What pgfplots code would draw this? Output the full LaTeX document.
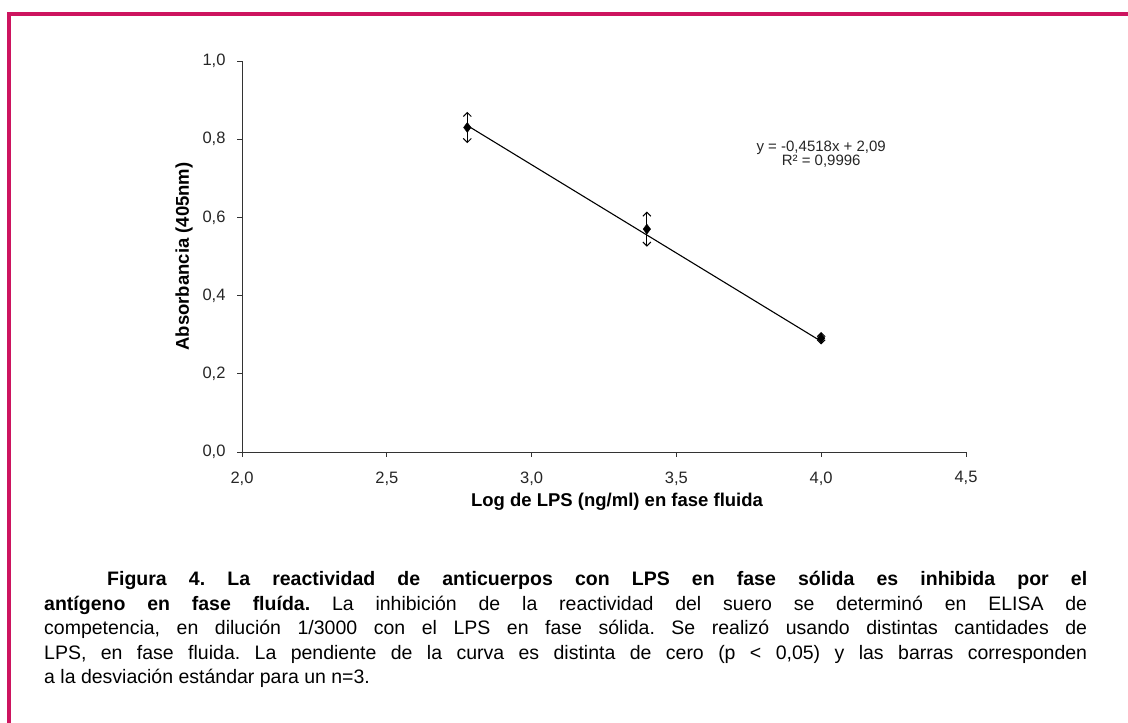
\documentclass[border=0pt]{standalone}
\usepackage{fontspec}
\setmainfont{Liberation Sans}
\usepackage{pgfplots}
\pgfplotsset{compat=1.18}
\usetikzlibrary{arrows.meta}
\definecolor{frame}{RGB}{205,20,95}
\frenchspacing
\begin{document}
\begin{tikzpicture}[x=1pt,y=1pt]
\path[use as bounding box] (0pt,0pt) rectangle (1128pt,723pt);
\fill[white] (0pt,0pt) rectangle (1128pt,723pt);
\draw[frame, line width=4pt] (9pt,0pt) -- (9pt,709pt) -- (1128pt,709pt);
\begin{axis}[
  at={(242pt,271pt)}, anchor=south west,
  scale only axis, width=724pt, height=391pt,
  xmin=2, xmax=4.5, ymin=0, ymax=1,
  axis lines=left, axis line style={-, black!80, line width=0.9pt},
  tick align=outside, major tick length=5pt,
  tick style={black!80, line width=0.9pt},
  xtick={2,2.5,3,3.5,4,4.5}, ytick={0,0.2,0.4,0.6,0.8,1},
  /pgf/number format/assume math mode=true,
  /pgf/number format/.cd, use comma, fixed, fixed zerofill, precision=1, /pgfplots/.cd,
  tick label style={font=\fontsize{16.5}{18}\selectfont, text=black!85},
  xticklabel style={yshift=-11pt},
  yticklabel style={xshift=-8pt},
  xlabel={\textbf{Log de LPS (ng/ml) en fase fluida}},
  ylabel={\textbf{Absorbancia (405nm)}},
  label style={font=\fontsize{18.5}{20}\selectfont},
  xlabel style={at={(axis description cs:0.518,0)}, anchor=north, yshift=-38pt},
  ylabel style={yshift=3pt},
]
\addplot[black, line width=1.1pt] coordinates {(2.778,0.835) (4.0,0.283)};
\addplot[black, only marks, mark=diamond*, mark size=5pt,
  error bars/.cd, y dir=both, y explicit, error mark=none,
  error bar style={-{Straight Barb[length=4pt,width=8pt]}, line width=1pt, black}]
  coordinates {
  (2.778,0.830) +- (0,0.040)
  (3.398,0.570) +- (0,0.045)
  (4.000,0.291) +- (0,0.016)
};
\node[font=\fontsize{15}{17}\selectfont, align=center, text=black!85] at (axis cs:4.0,0.762) {y = -0,4518x + 2,09\\[-3pt]R² = 0,9996};
\end{axis}
\node[anchor=north west, inner sep=0pt, text width=1043pt, align=justify,
  font=\fontsize{19.5}{24.6}\selectfont] at (44pt,152pt)
  {\hspace*{63pt}\textbf{Figura 4. La reactividad de anticuerpos con LPS en fase sólida es inhibida por el}\linebreak
  \textbf{antígeno en fase fluída.} La inhibición de la reactividad del suero se determinó en ELISA de\linebreak
  competencia, en dilución 1/3000 con el LPS en fase sólida. Se realizó usando distintas cantidades de\linebreak
  LPS, en fase fluida. La pendiente de la curva es distinta de cero (p < 0,05) y las barras corresponden\linebreak
  a la desviación estándar para un n=3.};
\end{tikzpicture}
\end{document}
